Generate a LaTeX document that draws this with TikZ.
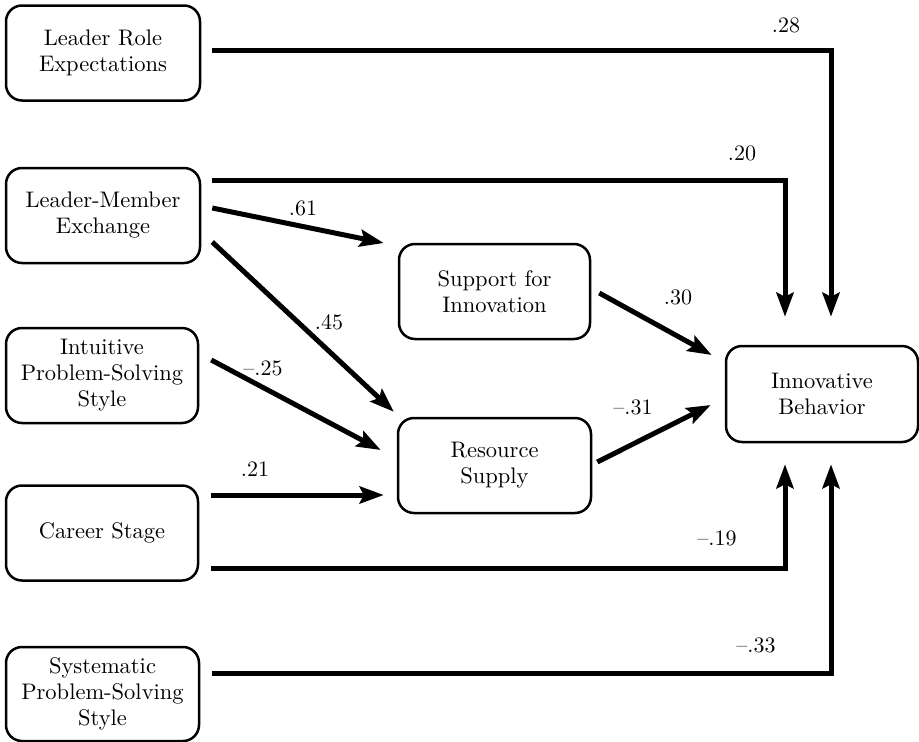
\documentclass[tikz,border=0pt]{standalone}
\usepackage{fontspec}
\setmainfont{lmroman10-regular.otf}
\usetikzlibrary{arrows.meta,calc}
\begin{document}
\begin{tikzpicture}[x=1pt,y=-1pt,
  box/.style={draw, line width=2.5pt, rounded corners=16pt, minimum width=194pt, minimum height=95pt, align=center, inner sep=0pt, font=\fontsize{22.5}{26}\selectfont},
  conn/.style={line width=5pt, -{Stealth[length=24pt,width=17pt,inset=4pt]}},
  lbl/.style={font=\fontsize{22}{24}\selectfont, inner sep=0pt}]
\useasboundingbox (0,0) rectangle (919,742);
% nodes
\node[box] (lre) at (103,53) {Leader Role\\Expectations};
\node[box] (lmx) at (103,215.5) {Leader-Member\\Exchange};
\node[box, minimum width=192pt] (ips) at (102,375.5) {Intuitive\\Problem-Solving\\Style};
\node[box, minimum width=192pt] (cs) at (102,533) {Career Stage};
\node[box, minimum width=193pt, minimum height=94pt] (sps) at (102.5,694) {Systematic\\Problem-Solving\\Style};
\node[box, minimum width=191pt] (sfi) at (494.5,291.5) {Support for\\Innovation};
\node[box, minimum width=193pt] (rs) at (494.5,465.5) {Resource\\Supply};
\node[box, minimum width=192pt, minimum height=96pt] (ib) at (822,394) {Innovative\\Behavior};
% connectors
\draw[conn] ($(lre.east)+(11,-3)$) -| ($(ib.north)+(9,-28)$);
\draw[conn] ($(lmx.east)+(11,-35.5)$) -| ($(ib.north)+(-37,-28)$);
\draw[conn] ($(lmx.east)+(11,-7.5)$) -- ($(sfi.west)+(-14,-48.5)$);
\draw[conn] ($(lmx.east)+(11,26.5)$) -- ($(rs.north west)+(-3,-5)$);
\draw[conn] ($(ips.east)+(12,-15.5)$) -- ($(rs.west)+(-16,-15.5)$);
\draw[conn] ($(cs.east)+(12,-38)$) -- ($(rs.west)+(-13,29.5)$);
\draw[conn] ($(cs.east)+(12,35)$) -| ($(ib.south)+(-37,21)$);
\draw[conn] ($(sps.east)+(12,-21)$) -| ($(ib.south)+(9,21)$);
\draw[conn] ($(sfi.east)+(8,1.5)$) -- ($(ib.west)+(-13,-39)$);
\draw[conn] ($(rs.east)+(5,-3.5)$) -- ($(ib.west)+(-14,11)$);
% labels
\node[lbl] (l28) at (786,25) {.28};
\node[lbl] (l20) at (742,153) {.20};
\node[lbl] (l61) at (303,208) {.61};
\node[lbl] (l45) at (329,322) {.45};
\node[lbl] (l25) at (263,368) {\textendash.25};
\node[lbl] (l21) at (255,469) {.21};
\node[lbl] (l30) at (678,297) {.30};
\node[lbl] (l31) at (633,407) {\textendash.31};
\node[lbl] (l19) at (717,538) {\textendash.19};
\node[lbl] (l33) at (756,645) {\textendash.33};
\end{tikzpicture}
\end{document}
